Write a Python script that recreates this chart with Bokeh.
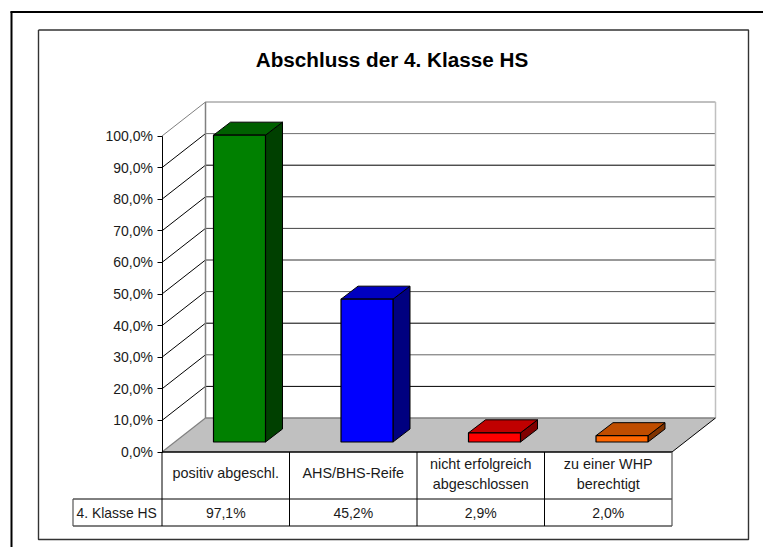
from bokeh.plotting import figure
from bokeh.models import Range1d, FixedTicker
from bokeh.core.properties import value
from bokeh.embed import file_html
from bokeh.resources import INLINE

title = "Abschluss der 4. Klasse HS"
categories = [["positiv abgeschl."], ["AHS/BHS-Reife"],
              ["nicht erfolgreich", "abgeschlossen"], ["zu einer WHP", "berechtigt"]]
values = [97.1, 45.2, 2.9, 2.0]
value_labels = ["97,1%", "45,2%", "2,9%", "2,0%"]
series_name = "4. Klasse HS"
y_ticks = [0, 10, 20, 30, 40, 50, 60, 70, 80, 90, 100]
y_labels = ["0,0%", "10,0%", "20,0%", "30,0%", "40,0%", "50,0%", "60,0%", "70,0%", "80,0%", "90,0%", "100,0%"]
front = ["#008000", "#0000ff", "#ff0000", "#ff6600"]
top = ["#006000", "#0000c0", "#c00000", "#bf4d00"]
side = ["#004000", "#000080", "#800000", "#803300"]
grid_shades = {10: "#000000", 20: "#666666", 30: "#000000", 40: "#555555", 50: "#333333",
               60: "#444444", 70: "#333333", 80: "#000000", 90: "#707070", 100: "#808080"}

FONT = "Liberation Sans"
W, H = 763, 547
X0, Y0 = 161.5, 451.5       # pixel position of the chart origin
CW, VH = 127.5, 3.16        # pixels per category, pixels per percent
DX, DY = 43.5, 34           # depth of the box
BL, BW, BF = 51.5, 52, 10   # bar left inset, bar width, bar front inset
BDX, BDY = 17, 13           # depth of a bar

def X(px): return (px - X0) / CW
def Y(py): return (Y0 - py) / VH
dx, dy = DX / CW, DY / VH
n = len(categories)

p = figure(width=W, height=H, output_backend="svg", toolbar_location=None,
           x_range=Range1d(X(0), X(W)), y_range=Range1d(Y(H), Y(0)),
           min_border=0, outline_line_color=None, background_fill_color="white")
p.grid.visible = False
p.xaxis.visible = False

def line(xs, ys, color="black", w=1):
    p.line(xs, ys, line_color=color, line_width=w)

# outer and inner frames
line([X(11), X(11)], [Y(H), Y(11)], "black", 2)
line([X(10), X(W)], [Y(11.5), Y(11.5)], "black", 2)
line([X(38), X(38), X(748), X(748), X(38)],
     [Y(29.5), Y(539), Y(539), Y(29.5), Y(29.5)], "#333333", 1.4)

p.text([X(391.5)], [Y(59)], text=[title], text_font=value(FONT), text_font_size="20.7px",
       text_font_style="bold", text_align="center", text_baseline="middle", text_color="black")

# floor
p.patch([0, n, n + dx, dx], [0, 0, dy, dy], fill_color="#c0c0c0", line_color=None)

# gridlines on side and back wall
for t in y_ticks[1:]:
    line([0, dx], [t, t + dy], "#808080" if t == 100 else "black")
    line([dx, n + dx], [t + dy, t + dy], grid_shades[t])
line([0, dx], [0, dy], "#808080", 1.2)
line([dx, n + dx], [dy, dy], "#808080", 1.5)
line([dx, dx], [dy, 100 + dy], "#808080", 1.5)
line([n + dx, n + dx], [dy, 100 + dy], "#c0c0c0", 1.5)
line([n, n + dx], [0, dy], "black")

# bars
bl, bw, bf, bdx, bdy = BL / CW, BW / CW, BF / VH, BDX / CW, BDY / VH
for i, v in enumerate(values):
    x0, x1 = i + bl, i + bl + bw
    yb, yt = bf, v + bf
    p.patch([x1, x1 + bdx, x1 + bdx, x1], [yb, yb + bdy, yt + bdy, yt],
            fill_color=side[i], line_color="black", line_width=1)
    p.patch([x0, x1, x1 + bdx, x0 + bdx], [yt, yt, yt + bdy, yt + bdy],
            fill_color=top[i], line_color="black", line_width=1)
    p.patch([x0, x1, x1, x0], [yb, yb, yt, yt],
            fill_color=front[i], line_color="black", line_width=1.2)

# data table
R1, R2 = Y(498.5), Y(525.5)
line([0, n], [0, 0], "black", 1.4)
line([X(72.5), n], [R1, R1], "black")
line([X(72.5), n], [R2, R2], "#555555", 1.4)
line([X(72.5), X(72.5)], [R1, R2], "#555555", 1.2)
for k in range(n + 1):
    line([k, k], [0, R2], "#555555" if k == n else "black", 1.2 if k == n else 1)
for i, lines in enumerate(categories):
    ys = [Y(472.5)] if len(lines) == 1 else [Y(463), Y(483)]
    p.text([i + .5] * len(lines), ys, text=lines, text_font=value(FONT), text_font_size="14.4px",
           text_align="center", text_baseline="middle", text_color="#1a1a1a")
p.text([i + .5 for i in range(n)], [Y(512.5)] * n, text=value_labels, text_font=value(FONT),
       text_font_size="14px", text_align="center", text_baseline="middle", text_color="#1a1a1a")
p.text([X(76)], [Y(512.5)], text=[series_name], text_font=value(FONT), text_font_size="13.9px",
       text_align="left", text_baseline="middle", text_color="#1a1a1a")

# value axis
ax = p.yaxis[0]
ax.fixed_location = 0
ax.bounds = (0, 100)
ax.ticker = FixedTicker(ticks=y_ticks)
ax.major_label_overrides = dict(zip(y_ticks, y_labels))
ax.major_label_text_font = FONT
ax.major_label_text_font_size = "14px"
ax.major_label_text_color = "#1a1a1a"
ax.major_tick_in = 0
ax.major_tick_out = 5
ax.minor_tick_line_color = None
ax.major_label_standoff = 4
ax.axis_line_color = "black"
ax.major_tick_line_color = "black"

open("out.html", "w").write(file_html(p, INLINE))
